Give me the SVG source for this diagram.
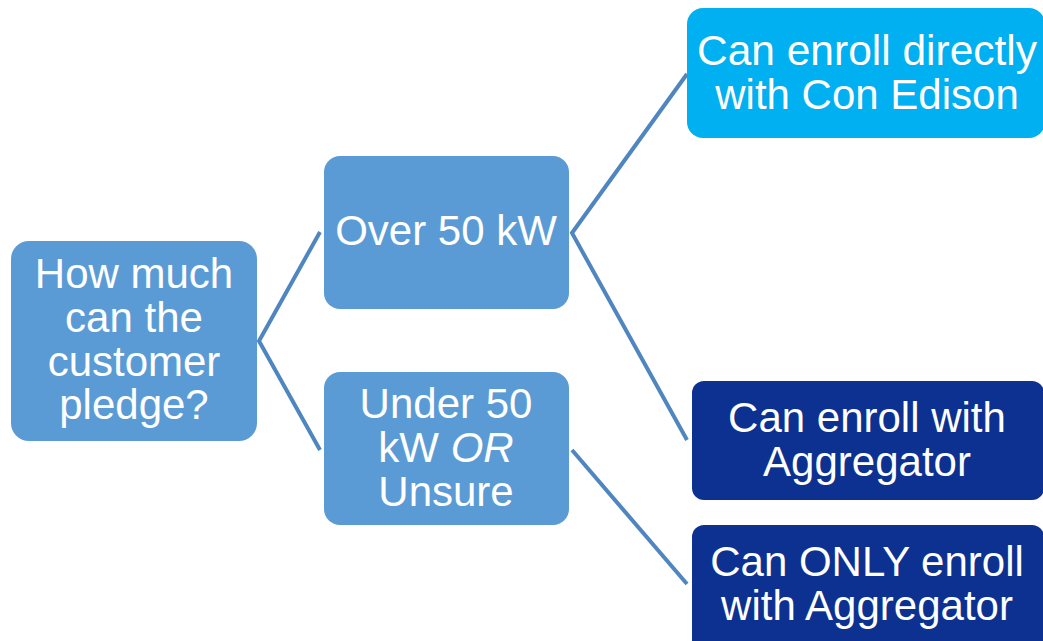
<svg xmlns="http://www.w3.org/2000/svg" width="1043" height="641" viewBox="0 0 1043 641">
<style>
.t{font-family:"Liberation Sans",Arial,sans-serif;font-size:42px;fill:#fff;text-anchor:middle}
.mid{fill:#5B9BD5}
.lt{fill:#00B0F0}
.dk{fill:#0D3190}
.c{stroke:#4F86BF;stroke-width:4;fill:none}
</style>
<rect width="1043" height="641" fill="#fff"/>
<g id="connectors">
<polyline class="c" points="320,232 259,341 320,450"/>
<polyline class="c" points="687,74 572,233 687,440"/>
<line class="c" x1="572" y1="450" x2="687" y2="584"/>
</g>
<g id="root">
<rect class="mid" x="11" y="241" width="246" height="200" rx="18"/>
<text class="t" x="134" y="288">How much</text>
<text class="t" x="134" y="332">can the</text>
<text class="t" x="134" y="376">customer</text>
<text class="t" x="134" y="419">pledge?</text>
</g>
<g id="over">
<rect class="mid" x="324" y="156" width="245" height="153" rx="16"/>
<text class="t" x="446" y="245">Over 50 kW</text>
</g>
<g id="under">
<rect class="mid" x="324" y="372" width="245" height="153" rx="16"/>
<text class="t" x="446" y="418">Under 50</text>
<text class="t" x="446" y="462">kW <tspan font-style="italic">OR</tspan></text>
<text class="t" x="446" y="506">Unsure</text>
</g>
<g id="direct">
<rect class="lt" x="687" y="8" width="358" height="130" rx="16"/>
<text class="t" x="867" y="65" textLength="340" lengthAdjust="spacingAndGlyphs">Can enroll directly</text>
<text class="t" x="867" y="109">with Con Edison</text>
</g>
<g id="agg">
<rect class="dk" x="692" y="381" width="352" height="119" rx="12"/>
<text class="t" x="867" y="432">Can enroll with</text>
<text class="t" x="867" y="476">Aggregator</text>
</g>
<g id="only">
<rect class="dk" x="692" y="525" width="352" height="130" rx="12"/>
<text class="t" x="867" y="576">Can ONLY enroll</text>
<text class="t" x="867" y="620">with Aggregator</text>
</g>
</svg>
